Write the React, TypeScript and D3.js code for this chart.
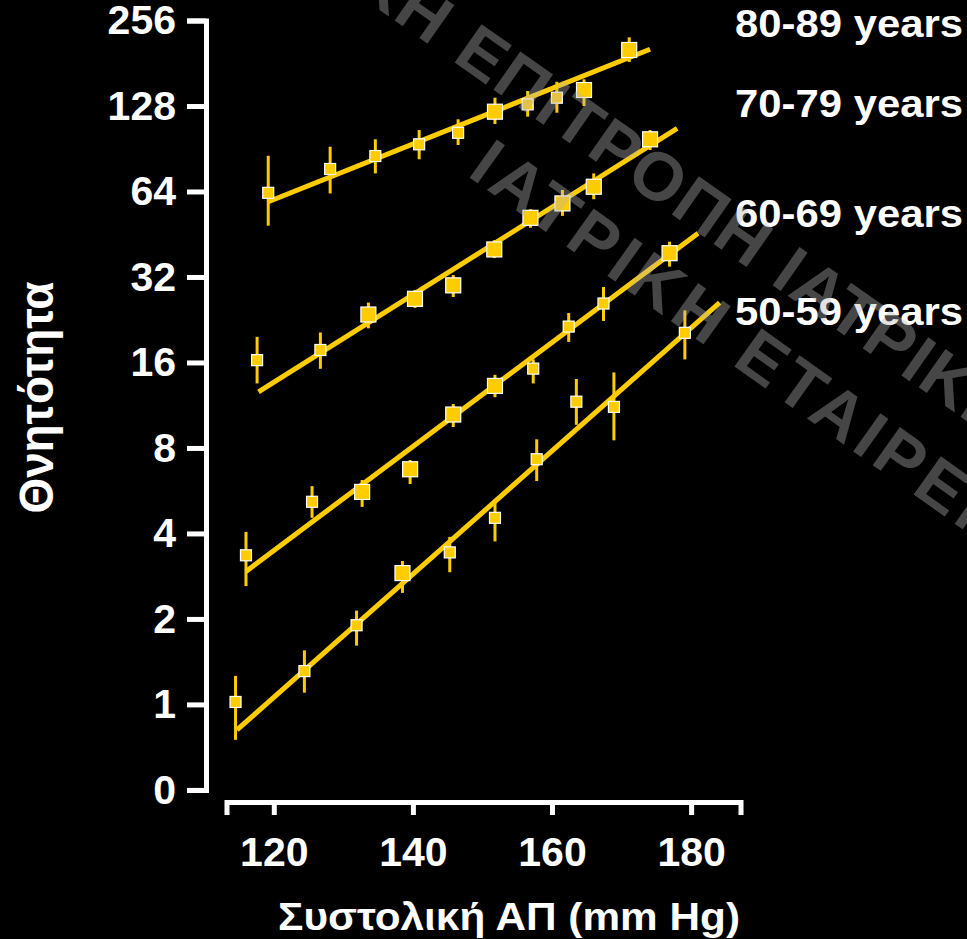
import React, { useEffect, useRef } from 'react';
import * as d3 from 'd3';

// systolic BP (mm Hg) of each group, mortality, and its error bar (low / high)
const bp80 = [119.2, 128.1, 134.6, 140.9, 146.5, 151.8, 156.5, 160.7, 164.6, 171.1];
const mort80 = [63.3, 76.8, 85.3, 93.8, 103.0, 122.2, 129.7, 136.9, 145.7, 201.6];
const lo80 = [48.5, 63.0, 74.1, 83.1, 93.3, 110.6, 117.4, 121.2, 128.0, 182.8];
const hi80 = [85.5, 92.0, 97.7, 105.3, 114.9, 136.9, 144.5, 155.8, 158.9, 223.4];
const big80 = [0, 0, 0, 0, 0, 1, 0, 0, 1, 1];
const fit80 = [[119.2, 58.9], [174.1, 202.7]];

const bp70 = [117.6, 126.7, 133.6, 140.3, 145.8, 151.7, 156.9, 161.5, 166.0, 174.1];
const mort70 = [16.3, 17.7, 23.6, 26.8, 29.9, 40.0, 51.7, 58.1, 66.5, 97.7];
const lo70 = [13.5, 15.2, 21.1, 24.9, 27.2, 37.3, 47.7, 52.5, 60.1, 89.6];
const hi70 = [19.7, 20.4, 26.0, 28.8, 32.5, 43.1, 55.4, 64.8, 74.1, 105.3];
const big70 = [0, 0, 1, 1, 1, 1, 1, 1, 1, 1];
const fit70 = [[117.8, 12.6], [178.0, 106.8]];

const bp60 = [116.0, 125.5, 132.7, 139.6, 145.8, 151.8, 157.3, 162.4, 167.4, 176.9];
const mort60 = [3.35, 5.17, 5.6, 6.73, 10.49, 13.23, 15.22, 21.4, 25.8, 38.8];
const lo60 = [2.61, 4.54, 4.96, 5.97, 9.48, 12.07, 13.5, 18.9, 22.4, 34.8];
const hi60 = [4.05, 5.87, 6.17, 7.25, 11.42, 14.47, 16.41, 23.9, 29.5, 42.6];
const big60 = [0, 0, 1, 1, 1, 1, 0, 0, 0, 1];
const fit60 = [[116.0, 2.94], [181.0, 45.6]];

const bp50 = [114.5, 124.4, 131.9, 138.5, 145.3, 151.8, 157.8, 163.5, 168.9, 179.1];
const mort50 = [1.02, 1.31, 1.9, 2.9, 3.43, 4.54, 7.3, 11.64, 11.16, 20.35];
const lo50 = [0.75, 1.1, 1.61, 2.47, 2.92, 3.75, 6.12, 9.65, 8.51, 16.4];
const hi50 = [1.26, 1.55, 2.14, 3.2, 3.89, 5.22, 8.58, 13.99, 14.76, 24.4];
const big50 = [0, 0, 0, 1, 0, 0, 0, 0, 0, 0];
const fit50 = [[114.7, 0.813], [184.1, 26.0]];

const yTicks = [0.5, 1, 2, 4, 8, 16, 32, 64, 128, 256];
const yTickLabels = ['0', '1', '2', '4', '8', '16', '32', '64', '128', '256'];
const xTicks = [120, 140, 160, 180];
const groupLabels = ['80-89 years', '70-79 years', '60-69 years', '50-59 years'];

const yellow = '#ffcc00';
const font = '"Liberation Sans", Arial, Helvetica, sans-serif';

const App: React.FC = () => {
	const ref = useRef<SVGSVGElement>(null);

	useEffect(() => {
		document.body.style.margin = '0';
		document.body.style.background = '#000';

		const svg = d3.select(ref.current);
		svg.selectAll('*').remove();

		const x = d3.scaleLinear().domain([113.2, 187.1]).range([226.5, 740.5]);
		const y = d3.scaleLog().base(2).domain([0.5, 256]).range([789.9, 20.5]);

		const series = [
			{ bp: bp80, m: mort80, lo: lo80, hi: hi80, big: big80, fit: fit80 },
			{ bp: bp70, m: mort70, lo: lo70, hi: hi70, big: big70, fit: fit70 },
			{ bp: bp60, m: mort60, lo: lo60, hi: hi60, big: big60, fit: fit60 },
			{ bp: bp50, m: mort50, lo: lo50, hi: hi50, big: big50, fit: fit50 },
		];

		// axes
		const yAxis = d3
			.axisLeft(y)
			.tickValues(yTicks)
			.tickSize(19)
			.tickSizeOuter(19)
			.tickPadding(11)
			.tickFormat((d, i) => yTickLabels[i]);
		const gy = svg.append('g').attr('transform', 'translate(206,0)').call(yAxis as any);

		const xAxis = d3
			.axisBottom(x)
			.tickValues(xTicks)
			.tickSize(13)
			.tickSizeOuter(13)
			.tickPadding(22)
			.tickFormat((d) => String(d));
		const gx = svg.append('g').attr('transform', 'translate(0,802)').call(xAxis as any);

		[gx, gy].forEach((g) => {
			g.attr('color', '#fff');
			g.select('.domain').attr('stroke-width', 5).attr('stroke-linejoin', 'miter');
			g.selectAll('.tick line').attr('stroke-width', 5);
			g.selectAll('.tick text')
				.attr('fill', '#fff')
				.style('font-family', font)
				.style('font-size', '41px')
				.style('font-weight', 'bold');
		});

		// fitted lines, error bars, markers
		const gData = svg.append('g');
		series.forEach((s) => {
			gData
				.append('line')
				.attr('x1', x(s.fit[0][0]))
				.attr('y1', y(s.fit[0][1]))
				.attr('x2', x(s.fit[1][0]))
				.attr('y2', y(s.fit[1][1]))
				.attr('stroke', yellow)
				.attr('stroke-width', 5);
		});
		series.forEach((s) => {
			s.bp.forEach((b, i) => {
				gData
					.append('line')
					.attr('x1', x(b))
					.attr('x2', x(b))
					.attr('y1', y(s.lo[i]))
					.attr('y2', y(s.hi[i]))
					.attr('stroke', yellow)
					.attr('stroke-width', 3);
			});
			s.bp.forEach((b, i) => {
				const size = s.big[i] ? 15 : 11;
				gData
					.append('rect')
					.attr('x', x(b) - size / 2)
					.attr('y', y(s.m[i]) - size / 2)
					.attr('width', size)
					.attr('height', size)
					.attr('fill', yellow)
					.attr('stroke', '#fff')
					.attr('stroke-width', 1.2);
			});
		});

		// group labels
		const labelY = [36.7, 116.7, 226.7, 325];
		groupLabels.forEach((t, i) => {
			svg.append('text')
				.attr('x', 735)
				.attr('y', labelY[i])
				.attr('fill', '#fff')
				.attr('textLength', 228)
				.attr('lengthAdjust', 'spacingAndGlyphs')
				.style('font-family', font)
				.style('font-size', '38px')
				.style('font-weight', 'bold')
				.text(t);
		});

		// axis titles
		svg.append('text')
			.attr('x', 278)
			.attr('y', 930)
			.attr('fill', '#fff')
			.attr('textLength', 462)
			.attr('lengthAdjust', 'spacingAndGlyphs')
			.style('font-family', font)
			.style('font-size', '39px')
			.style('font-weight', 'bold')
			.text('Συστολική ΑΠ (mm Hg)');

		svg.append('text')
			.attr('transform', 'translate(53,397.5) rotate(-90)')
			.attr('text-anchor', 'middle')
			.attr('fill', '#fff')
			.attr('textLength', 232)
			.attr('lengthAdjust', 'spacingAndGlyphs')
			.style('font-family', font)
			.style('font-size', '49px')
			.style('font-weight', 'bold')
			.text('Θνητότητα');

		// watermark on top
		const wm = svg
			.append('g')
			.attr('fill', '#b4b4b4')
			.attr('fill-opacity', 0.39)
			.style('font-family', font)
			.style('font-size', '68px')
			.style('font-weight', 'bold');
		const w1 = wm.append('g').attr('transform', 'translate(451,60) rotate(35)').style('letter-spacing', '2px');
		w1.append('text').attr('x', -22).attr('text-anchor', 'end').text('ΕΛΛΗΝΙΚΗ');
		w1.append('text').attr('x', 0).text('ΕΠΙΤΡΟΠΗ ΙΑΤΡΙΚΗΣ');
		wm.append('g')
			.attr('transform', 'translate(466,175) rotate(35.5)')
			.style('letter-spacing', '5px')
			.append('text')
			.text('ΙΑΤΡΙΚΗ ΕΤΑΙΡΕΙΑ');
	}, []);

	return <svg ref={ref} width={967} height={939} style={{ display: 'block', background: '#000' }} />;
};

export default App;
